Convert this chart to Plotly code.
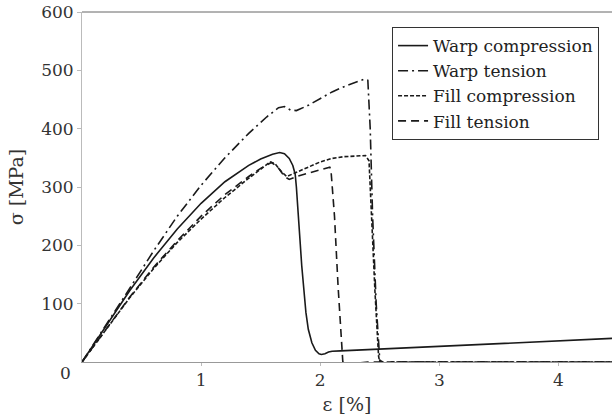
import plotly.graph_objects as go

# Warp compression (solid)
wc_x = [0, 0.2, 0.4, 0.6, 0.8, 1.0, 1.2, 1.4, 1.5, 1.6, 1.66, 1.70, 1.74, 1.77, 1.79, 1.80, 1.81, 1.82, 1.83, 1.845, 1.86, 1.88, 1.90, 1.93, 1.96, 1.99, 2.01, 2.04, 2.07, 2.10, 2.17, 4.45]
wc_y = [0, 62, 122, 178, 228, 272, 309, 337, 348, 356, 359, 357, 349, 337, 322, 300, 275, 245, 210, 165, 125, 85, 56, 33, 20, 14, 13, 14, 17, 18.5, 19, 40.5]

# Warp tension (dash-dot)
wt_x = [0, 0.2, 0.4, 0.6, 0.8, 1.0, 1.2, 1.4, 1.55, 1.65, 1.70, 1.75, 1.80, 1.90, 2.0, 2.1, 2.2, 2.3, 2.37, 2.40, 2.42, 2.44, 2.47, 2.50, 2.55, 2.60, 4.45]
wt_y = [0, 62, 126, 190, 250, 303, 350, 392, 420, 436, 438, 432, 431, 440, 452, 463, 472, 480, 485, 483, 400, 250, 100, 3, -3, 0, 0]

# Fill compression (short dash)
fc_x = [0, 0.2, 0.4, 0.6, 0.8, 1.0, 1.2, 1.4, 1.5, 1.58, 1.62, 1.68, 1.72, 1.8, 1.9, 2.0, 2.1, 2.2, 2.3, 2.38, 2.41, 2.43, 2.46, 2.49, 2.50, 2.55, 2.60, 4.45]
fc_y = [0, 55, 110, 160, 205, 245, 282, 315, 330, 343, 340, 325, 318, 325, 335, 343, 349, 352, 353, 354, 345, 250, 120, 10, 0, -3, 0, 0]

# Fill tension (long dash)
ft_x = [0, 0.2, 0.4, 0.6, 0.8, 1.0, 1.2, 1.4, 1.5, 1.59, 1.64, 1.70, 1.74, 1.8, 1.9, 2.0, 2.08, 2.09, 2.12, 2.15, 2.18, 2.19, 2.23, 2.3, 2.4, 4.45]
ft_y = [0, 56, 111, 162, 208, 250, 287, 318, 332, 342, 335, 318, 313, 318, 324, 329, 334, 330, 250, 130, 20, 0, -5, -2, 0, 0]

x_ticks = [1, 2, 3, 4]
y_ticks = [100, 200, 300, 400, 500, 600]

series = [
    ("Warp compression", wc_x, wc_y, "solid"),
    ("Warp tension", wt_x, wt_y, "10px,4px,2px,4px"),
    ("Fill compression", fc_x, fc_y, "4px,2px"),
    ("Fill tension", ft_x, ft_y, "8px,5px"),
]

fig = go.Figure()
for name, xs, ys, dash in series:
    fig.add_trace(go.Scatter(x=xs, y=ys, mode="lines", name=name,
                             line=dict(color="#1a1a1a", width=1.6, dash=dash)))

serif = "DejaVu Serif"
fig.update_layout(
    template="none",
    width=612, height=420,
    margin=dict(l=82, r=0, t=12, b=58),
    paper_bgcolor="white", plot_bgcolor="white",
    font=dict(family=serif, size=17, color="#333"),
    showlegend=True,
    legend=dict(x=0.585, y=0.957, xanchor="left", yanchor="top",
                bordercolor="#333", borderwidth=1, bgcolor="white",
                font=dict(family=serif, size=17, color="#222"),
                tracegroupgap=0),
    xaxis=dict(range=[0, 4.45], tickvals=x_ticks, showgrid=False, zeroline=False,
               showline=True, linecolor="#999", linewidth=1,
               ticks="outside", ticklen=3, tickcolor="#bbb",
               title=dict(text="ε [%]", font=dict(family=serif, size=19, color="#333"), standoff=8)),
    yaxis=dict(range=[0, 600], tickvals=y_ticks, showgrid=False, zeroline=False,
               showline=True, linecolor="#bbb", linewidth=1,
               ticks="outside", ticklen=4, tickcolor="#bbb",
               title=dict(text="σ [MPa]", font=dict(family=serif, size=19, color="#333"), standoff=12)),
)
fig.add_shape(type="line", xref="paper", yref="paper", x0=0, x1=1, y0=1, y1=1,
              line=dict(color="#666", width=1))
fig.add_annotation(x=0, y=0, xref="paper", yref="y", text="0", showarrow=False,
                   xanchor="right", yanchor="middle", xshift=-9, yshift=-11,
                   font=dict(family=serif, size=17, color="#333"))
fig.write_html("out.html")
